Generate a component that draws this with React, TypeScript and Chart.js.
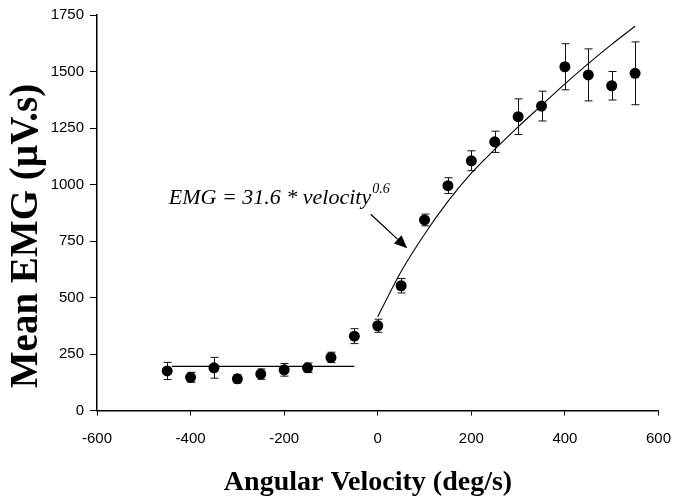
import { useEffect, useRef } from "react";
import { Chart, registerables } from "chart.js";

Chart.register(...registerables);

// ---- data ----
const velocities = [-450, -400, -350, -300, -250, -200, -150, -100, -50, 0, 50, 100, 150, 200, 250, 300, 350, 400, 450, 500, 550];
const meanEmg = [175, 147, 189, 140, 161, 180, 189, 235, 329, 375, 552, 843, 995, 1105, 1189, 1300, 1347, 1521, 1485, 1437, 1492];
const emgError = [38, 22, 46, 18, 23, 28, 21, 23, 33, 29, 32, 26, 35, 44, 47, 79, 66, 102, 115, 63, 139];

const plateauX = [-440, -50];
const plateauY = [195, 195];

const fitX = [0, 50, 100, 150, 200, 250, 300, 350, 400, 450, 500, 550];
const fitY = [415, 615, 780, 925, 1050, 1155, 1255, 1350, 1445, 1535, 1620, 1700];

const xTicks = [-600, -400, -200, 0, 200, 400, 600];
const yTicks = [0, 250, 500, 750, 1000, 1250, 1500, 1750];

const equationText = "EMG = 31.6 * velocity";
const equationExp = "0.6";
const xTitle = "Angular Velocity (deg/s)";
const yTitle = "Mean EMG (\u00B5V.s)";

const errorBarPlugin = {
  id: "errorBars",
  beforeDatasetsDraw(chart: any) {
    const { ctx, scales } = chart;
    const xs = scales.x;
    const ys = scales.y;
    ctx.save();
    ctx.strokeStyle = "#111";
    ctx.lineWidth = 1;
    velocities.forEach((v, i) => {
      const px = Math.round(xs.getPixelForValue(v)) + 0.5;
      const top = ys.getPixelForValue(meanEmg[i] + emgError[i]);
      const bot = ys.getPixelForValue(meanEmg[i] - emgError[i]);
      const cap = 4;
      ctx.beginPath();
      ctx.moveTo(px, top);
      ctx.lineTo(px, bot);
      ctx.moveTo(px - cap, top);
      ctx.lineTo(px + cap, top);
      ctx.moveTo(px - cap, bot);
      ctx.lineTo(px + cap, bot);
      ctx.stroke();
    });
    ctx.restore();
  },
};

const annotationPlugin = {
  id: "equationNote",
  afterDraw(chart: any, _args: any, opts: any) {
    const { ctx, scales } = chart;
    const xs = scales.x;
    const ys = scales.y;
    ctx.save();
    ctx.fillStyle = "#000";
    ctx.textBaseline = "alphabetic";
    ctx.textAlign = "left";
    const tx = xs.getPixelForValue(opts.textAt[0]);
    const ty = ys.getPixelForValue(opts.textAt[1]);
    ctx.font = "italic 22px 'Liberation Serif', 'DejaVu Serif', serif";
    ctx.fillText(equationText, tx, ty);
    const w = ctx.measureText(equationText).width;
    ctx.font = "italic 14px 'Liberation Serif', 'DejaVu Serif', serif";
    ctx.fillText(equationExp, tx + w + 1, ty - 11);

    // arrow
    const ax = xs.getPixelForValue(opts.arrowFrom[0]);
    const ay = ys.getPixelForValue(opts.arrowFrom[1]);
    const bx = xs.getPixelForValue(opts.arrowTo[0]);
    const by = ys.getPixelForValue(opts.arrowTo[1]);
    const ang = Math.atan2(by - ay, bx - ax);
    const headLen = 13;
    const headW = 5.5;
    const hx = bx - headLen * Math.cos(ang);
    const hy = by - headLen * Math.sin(ang);
    ctx.strokeStyle = "#000";
    ctx.lineWidth = 1.3;
    ctx.beginPath();
    ctx.moveTo(ax, ay);
    ctx.lineTo(hx, hy);
    ctx.stroke();
    ctx.beginPath();
    ctx.moveTo(bx, by);
    ctx.lineTo(hx + headW * Math.sin(ang), hy - headW * Math.cos(ang));
    ctx.lineTo(hx - headW * Math.sin(ang), hy + headW * Math.cos(ang));
    ctx.closePath();
    ctx.fill();

    // axis titles
    ctx.font = "bold 28px 'Liberation Serif', 'DejaVu Serif', serif";
    ctx.textAlign = "center";
    ctx.fillText(xTitle, opts.xTitleAt[0], opts.xTitleAt[1]);
    ctx.translate(opts.yTitleAt[0], opts.yTitleAt[1]);
    ctx.rotate(-Math.PI / 2);
    ctx.font = "bold 39px 'Liberation Serif', 'DejaVu Serif', serif";
    ctx.textBaseline = "middle";
    ctx.fillText(yTitle, 0, 0);
    ctx.restore();
  },
};

export default function App() {
  const ref = useRef<HTMLCanvasElement | null>(null);

  useEffect(() => {
    document.body.style.margin = "0";
    document.body.style.overflow = "hidden";
    const canvas = ref.current;
    if (!canvas) return;
    const chart = new Chart(canvas, {
      type: "scatter",
      data: {
        datasets: [
          {
            type: "scatter",
            label: "Mean EMG",
            data: velocities.map((v, i) => ({ x: v, y: meanEmg[i] })),
            pointRadius: 5.5,
            pointBackgroundColor: "#000",
            pointBorderColor: "#000",
            pointBorderWidth: 0,
          },
          {
            type: "line",
            label: "plateau",
            data: plateauX.map((v, i) => ({ x: v, y: plateauY[i] })),
            borderColor: "#000",
            borderWidth: 1.3,
            pointRadius: 0,
            fill: false,
          },
          {
            type: "line",
            label: "fit",
            data: fitX.map((v, i) => ({ x: v, y: fitY[i] })),
            borderColor: "#000",
            borderWidth: 1.1,
            pointRadius: 0,
            fill: false,
            cubicInterpolationMode: "monotone",
          },
        ],
      },
      options: {
        animation: false,
        responsive: false,
        maintainAspectRatio: false,
        layout: { padding: { top: 15, right: 21, left: 0, bottom: 0 } },
        plugins: {
          legend: { display: false },
          tooltip: { enabled: false },
          equationNote: {
            textAt: [-446.6, 912],
            arrowFrom: [-15, 868],
            arrowTo: [63, 718],
            xTitleAt: [368, 490],
            yTitleAt: [27, 236],
          },
        } as any,
        scales: {
          x: {
            type: "linear",
            min: -600,
            max: 600,
            afterBuildTicks: (s: any) => {
              s.ticks = xTicks.map((v) => ({ value: v }));
            },
            afterFit: (s: any) => {
              s.height = 93.5;
            },
            grid: { drawOnChartArea: false, drawTicks: true, tickLength: 5, color: "#000", lineWidth: 1 },
            border: { color: "#000", width: 1.5 },
            ticks: {
              color: "#000",
              padding: 14,
              maxRotation: 0,
              callback: (v: any) => String(v),
              font: { family: "'Liberation Sans', Arial, sans-serif", size: 15 },
            },
          },
          y: {
            type: "linear",
            min: 0,
            max: 1750,
            afterBuildTicks: (s: any) => {
              s.ticks = yTicks.map((v) => ({ value: v }));
            },
            afterFit: (s: any) => {
              s.width = 97;
            },
            grid: { drawOnChartArea: false, drawTicks: true, tickLength: 7, color: "#000", lineWidth: 1 },
            border: { color: "#000", width: 1.5 },
            ticks: {
              color: "#000",
              padding: 6,
              callback: (v: any) => String(v),
              font: { family: "'Liberation Sans', Arial, sans-serif", size: 15 },
            },
          },
        },
      },
      plugins: [errorBarPlugin, annotationPlugin],
    });
    return () => chart.destroy();
  }, []);

  return (
    <div style={{ width: 685, height: 504, overflow: "hidden" }}>
      <canvas ref={ref} width={685} height={504} style={{ display: "block", width: 685, height: 504 }} />
    </div>
  );
}
